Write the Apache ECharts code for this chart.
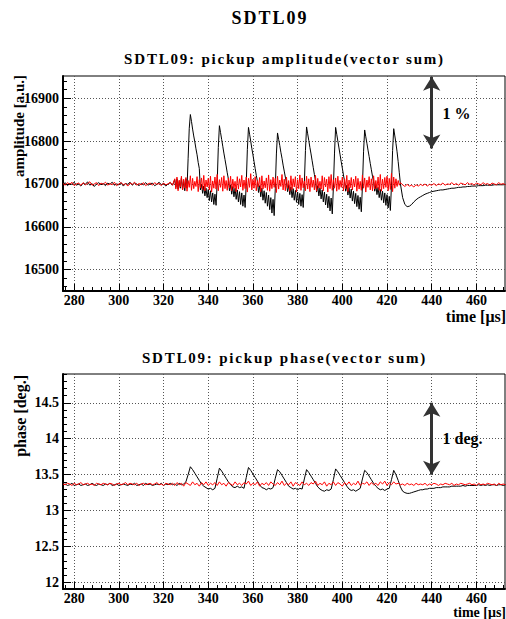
<!DOCTYPE html>
<html><head><meta charset="utf-8">
<script src="https://cdn.jsdelivr.net/npm/echarts@6/dist/echarts.min.js"></script>
<style>html,body{margin:0;padding:0;background:#fff}#c{width:506px;height:619px}</style>
</head><body><div id="c"></div>
<script>
// ---- data ----
// sampling of the traces: [start µs, step µs]
const quietTime = [275, 1];    // 275 .. 324
const pulseTime = [325, 0.5];  // 325 .. 426 (amplitude only)
const tailTime  = [427, 1];    // 427 .. 473
const phaseTime = [275, 1];    // 275 .. 473

const xTicks = [280, 300, 320, 340, 360, 380, 400, 420, 440, 460];
const ampTicks = [16500, 16600, 16700, 16800, 16900];
const phaseTicks = [12, 12.5, 13, 13.5, 14, 14.5];

const mainTitle = 'SDTL09';
const ampTitle = 'SDTL09: pickup amplitude(vector sum)';
const phaseTitle = 'SDTL09: pickup phase(vector sum)';
const ampAxisName = 'amplitude [a.u.]';
const phaseAxisName = 'phase [deg.]';
const timeAxisName = 'time [\u03bcs]';
const ampNote = '1 %';
const phaseNote = '1 deg.';
const arrowTime = 440;
const ampArrow = [16950, 16783];
const phaseArrow = [14.5, 13.5];
const ampNotePos = [444.6, 16865];
const phaseNotePos = [444.6, 14.0];

const ampBlackQuiet = [
16698,16703,16696,16701,16699,16704,16697,16700,16695,16702,
16699,16705,16697,16701,16694,16700,16703,16698,16701,16696,
16702,16699,16704,16697,16700,16698,16703,16695,16701,16699,
16704,16697,16702,16700,16696,16701,16698,16703,16697,16700,
16702,16696,16699,16704,16698,16701,16695,16700,16703,16697
];
const ampBlackPulse = [
16710,16692,16712,16688,16706,16690,16714,16686,16708,16684,16712,16690,16760,16830,
16862,16846,16828,16812,16798,16782,16768,16750,16736,16686,16699,16678,16695,16672,16690,16668,16687,16661,16684,16658,16679,16652,16676,16650,16702,16785,
16836,16820,16804,16788,16772,16757,16742,16726,16712,16684,16698,16676,16694,16670,16690,16664,16686,16658,16682,16652,16679,16648,16674,16645,16700,16780,
16832,16816,16800,16783,16768,16752,16736,16720,16706,16680,16696,16670,16690,16662,16684,16655,16680,16648,16674,16640,16668,16632,16664,16626,16690,16770,
16819,16804,16790,16774,16760,16744,16730,16716,16704,16682,16697,16675,16693,16668,16689,16662,16685,16657,16681,16652,16678,16648,16675,16645,16700,16778,
16833,16817,16801,16785,16770,16754,16738,16722,16708,16681,16696,16672,16691,16665,16686,16658,16681,16651,16676,16644,16671,16637,16667,16630,16692,16772,
16832,16816,16800,16784,16768,16752,16737,16721,16706,16683,16697,16674,16692,16667,16688,16660,16683,16654,16678,16647,16673,16641,16669,16635,16695,16775,
16826,16810,16795,16779,16764,16748,16733,16718,16705,16683,16697,16675,16692,16668,16687,16662,16683,16656,16679,16650,16675,16644,16671,16638,16697,16778,
16829,16812,16795,16775,16752,16726,16700
];
const ampBlackTail = [
16668,16652,16647,16648,16652,16658,16663,16667,16670,16673,
16676,16678,16680,16682,16683,16684,16685,16686,16686,16687,
16688,16689,16690,16690,16691,16692,16692,16693,16693,16694,
16694,16695,16695,16695,16696,16696,16696,16697,16697,16697,
16697,16698,16698,16698,16698,16698,16699
];
const ampRedQuiet = [
16701,16697,16703,16699,16704,16696,16700,16702,16697,16703,
16698,16701,16705,16697,16700,16703,16696,16702,16699,16704,
16697,16701,16698,16704,16696,16700,16703,16698,16701,16695,
16702,16699,16704,16697,16701,16698,16703,16696,16700,16702,
16697,16703,16699,16701,16696,16702,16698,16700,16704,16697
];
const ampRedPulse = [
16712,16688,16716,16684,16709,16693,16718,16686,16711,16690,
16715,16683,16708,16692,16719,16685,16713,16689,16706,16694,
16717,16682,16710,16691,16714,16687,16720,16684,16709,16693,
16713,16686,16718,16681,16707,16690,16716,16688,16722,16684,
16710,16692,16715,16683,16719,16689,16708,16685,16714,16691,
16718,16684,16711,16690,16706,16682,16717,16688,16712,16693,
16720,16685,16709,16689,16716,16681,16713,16692,16724,16686,
16711,16690,16717,16684,16708,16693,16715,16682,16719,16688,
16707,16691,16714,16685,16721,16683,16710,16689,16716,16692,
16713,16680,16718,16688,16709,16694,16722,16686,16711,16684,
16716,16690,16708,16683,16719,16687,16712,16693,16717,16681,
16710,16689,16721,16685,16714,16691,16707,16684,16718,16688,
16712,16682,16716,16692,16709,16686,16720,16683,16713,16690,
16706,16688,16719,16684,16715,16693,16711,16681,16717,16689,
16722,16685,16710,16690,16714,16683,16718,16687,16708,16692,
16716,16684,16712,16689,16720,16682,16709,16691,16715,16686,
16711,16693,16718,16683,16713,16688,16706,16685,16721,16690,
16714,16681,16709,16692,16717,16686,16712,16684,16719,16688,
16708,16690,16716,16685,16722,16683,16711,16689,16715,16692,
16718,16684,16713,16687,16725,16682,16716,16690,16712,16694,
16708,16697,16703
];
const ampRedTail = [
16698,16694,16699,16695,16697,16693,16698,16695,16699,16696,
16700,16695,16699,16697,16701,16696,16700,16698,16702,16697,
16700,16699,16703,16698,16701,16697,16702,16700,16698,16703,
16699,16701,16697,16702,16700,16698,16703,16699,16701,16697,
16702,16700,16698,16703,16699,16701,16698
];
const phaseBlack = [
13.36,13.37,13.35,13.36,13.38,13.35,13.36,13.37,13.35,13.36,
13.37,13.35,13.36,13.38,13.36,13.35,13.37,13.36,13.35,13.37,
13.36,13.38,13.35,13.36,13.37,13.35,13.36,13.37,13.36,13.35,
13.37,13.36,13.38,13.35,13.36,13.37,13.35,13.38,13.36,13.37,
13.35,13.36,13.37,13.36,13.38,13.35,13.37,13.36,13.38,13.36,
13.37,13.35,13.38,13.36,13.37,13.40,13.50,13.61,13.57,13.52,
13.47,13.42,13.37,13.34,13.32,13.30,13.31,13.29,13.31,13.45,
13.59,13.55,13.50,13.45,13.40,13.36,13.33,13.32,13.34,13.32,
13.33,13.31,13.46,13.60,13.56,13.51,13.46,13.41,13.36,13.32,
13.31,13.29,13.31,13.30,13.32,13.45,13.57,13.54,13.49,13.44,
13.39,13.34,13.32,13.30,13.31,13.29,13.31,13.30,13.44,13.57,
13.53,13.48,13.43,13.38,13.33,13.30,13.28,13.27,13.29,13.28,
13.30,13.43,13.58,13.54,13.49,13.44,13.39,13.34,13.30,13.28,
13.29,13.27,13.29,13.31,13.44,13.56,13.53,13.48,13.43,13.38,
13.34,13.31,13.29,13.30,13.28,13.30,13.31,13.43,13.56,13.50,
13.42,13.33,13.27,13.25,13.24,13.24,13.25,13.26,13.27,13.28,
13.29,13.29,13.30,13.30,13.31,13.31,13.31,13.32,13.32,13.32,
13.33,13.33,13.33,13.33,13.34,13.34,13.34,13.34,13.34,13.35,
13.34,13.35,13.35,13.35,13.35,13.35,13.36,13.35,13.36,13.35,
13.36,13.35,13.36,13.36,13.35,13.36,13.36,13.35,13.36
];
const phaseRed = [
13.37,13.36,13.38,13.37,13.35,13.38,13.36,13.37,13.39,13.36,
13.37,13.38,13.36,13.37,13.35,13.38,13.37,13.36,13.38,13.37,
13.36,13.38,13.37,13.35,13.37,13.38,13.36,13.37,13.39,13.36,
13.38,13.37,13.36,13.38,13.35,13.37,13.38,13.36,13.37,13.38,
13.36,13.37,13.39,13.36,13.37,13.35,13.38,13.37,13.36,13.38,
13.35,13.39,13.36,13.38,13.34,13.39,13.37,13.35,13.40,13.36,
13.38,13.34,13.39,13.36,13.40,13.35,13.38,13.36,13.39,13.35,
13.40,13.36,13.38,13.34,13.39,13.37,13.35,13.40,13.36,13.38,
13.35,13.39,13.37,13.41,13.35,13.38,13.36,13.40,13.34,13.38,
13.36,13.39,13.35,13.40,13.37,13.35,13.39,13.36,13.41,13.35,
13.38,13.36,13.40,13.34,13.39,13.37,13.35,13.40,13.36,13.38,
13.35,13.39,13.37,13.41,13.35,13.38,13.36,13.40,13.34,13.38,
13.36,13.40,13.35,13.39,13.37,13.34,13.39,13.36,13.40,13.35,
13.38,13.36,13.41,13.35,13.38,13.37,13.40,13.35,13.39,13.36,
13.38,13.35,13.40,13.37,13.41,13.35,13.39,13.36,13.40,13.37,
13.38,13.36,13.37,13.35,13.38,13.36,13.37,13.35,13.38,13.36,
13.37,13.36,13.38,13.35,13.37,13.36,13.38,13.37,13.35,13.37,
13.36,13.38,13.37,13.36,13.38,13.35,13.37,13.36,13.38,13.37,
13.36,13.37,13.38,13.36,13.37,13.35,13.38,13.36,13.37,13.36,
13.38,13.37,13.36,13.37,13.35,13.38,13.36,13.37,13.36
];

// ---- presentation ----
const FONT = '"Liberation Serif", "Times New Roman", serif';
const xMin = 275, xMax = 472.8;
const ampMin = 16450, ampMax = 16952;
const phMin = 11.91, phMax = 14.9;

function steps(a, b, s) { const r = []; for (let k = 0; a + k * s <= b + 1e-9; k++) r.push(+(a + k * s).toFixed(4)); return r; }
const xMinor = steps(276, 472, 4);
const ampMinor = steps(16460, 16940, 20);
const phaseMinor = steps(12, 14.9, 0.1);

function sampled(time, arr) { return arr.map((v, i) => [time[0] + i * time[1], v]); }
const ampBlackData = sampled(quietTime, ampBlackQuiet).concat(sampled(pulseTime, ampBlackPulse), sampled(tailTime, ampBlackTail));
const ampRedData = sampled(quietTime, ampRedQuiet).concat(sampled(pulseTime, ampRedPulse), sampled(tailTime, ampRedTail));

const labelStyle = { fontFamily: FONT, fontWeight: 'bold', fontSize: 14, lineHeight: 12, color: '#000' };
const split = { show: true, lineStyle: { color: '#555', width: 1, type: [1, 2] } };
const fmt = v => String(+v.toFixed(3));

function xMajor(g) {
  return { gridIndex: g, type: 'value', min: xMin, max: xMax, position: 'bottom',
    axisLine: { show: true, onZero: false, lineStyle: { color: '#000', width: 2 } },
    axisTick: { show: true, inside: true, length: 7, customValues: xTicks, lineStyle: { color: '#000', width: 1 } },
    axisLabel: Object.assign({ show: true, customValues: xTicks, margin: 3, formatter: fmt }, labelStyle),
    splitLine: split };
}
function xMinorAxis(g) {
  return { gridIndex: g, type: 'value', min: xMin, max: xMax, position: 'bottom', offset: 0,
    axisLine: { show: false, onZero: false },
    axisTick: { show: true, inside: true, length: 4, customValues: xMinor, lineStyle: { color: '#000', width: 1 } },
    axisLabel: { show: false }, splitLine: { show: false } };
}
function yMajor(g, mn, mx, ticks) {
  return { gridIndex: g, type: 'value', min: mn, max: mx, position: 'left',
    axisLine: { show: true, onZero: false, lineStyle: { color: '#000', width: 2 } },
    axisTick: { show: true, inside: true, length: 8, customValues: ticks, lineStyle: { color: '#000', width: 1 } },
    axisLabel: Object.assign({ show: true, customValues: ticks, margin: 4, formatter: fmt }, labelStyle),
    splitLine: split };
}
function yMinorAxis(g, mn, mx, ticks) {
  return { gridIndex: g, type: 'value', min: mn, max: mx, position: 'left', offset: 0,
    axisLine: { show: false, onZero: false },
    axisTick: { show: true, inside: true, length: 4, customValues: ticks, lineStyle: { color: '#000', width: 1 } },
    axisLabel: { show: false }, splitLine: { show: false } };
}

function arrowMark(x, a, b) {
  return { silent: true, symbol: ['arrow', 'arrow'], symbolSize: [13, 14],
    lineStyle: { color: '#333', width: 3, type: 'solid' }, label: { show: false },
    data: [[{ coord: [x, a] }, { coord: [x, b] }]] };
}
function noteMark(pos, text) {
  return { silent: true, symbol: 'circle', symbolSize: 1, itemStyle: { color: 'rgba(0,0,0,0)' },
    label: { show: true, position: 'right', distance: 0, formatter: text, fontFamily: FONT, fontWeight: 'bold', fontSize: 16, color: '#000' },
    data: [{ coord: pos }] };
}

const textEl = (x, y, text, size, align, rot) => ({
  type: 'text', x: x, y: y, rotation: rot || 0, silent: true,
  style: { text: text, fontFamily: FONT, fontWeight: 'bold', fontSize: size, lineHeight: size - 1, fill: '#000', align: align, verticalAlign: 'middle' }
});

const option = {
  animation: false,
  backgroundColor: '#fff',
  grid: [
    { left: 63, top: 76, width: 442, height: 215, show: true, borderColor: '#000', borderWidth: 1, outerBoundsMode: 'none' },
    { left: 63, top: 374, width: 442, height: 215, show: true, borderColor: '#000', borderWidth: 1, outerBoundsMode: 'none' }
  ],
  xAxis: [xMajor(0), xMinorAxis(0), xMajor(1), xMinorAxis(1)],
  yAxis: [
    yMajor(0, ampMin, ampMax, ampTicks), yMinorAxis(0, ampMin, ampMax, ampMinor),
    yMajor(1, phMin, phMax, phaseTicks), yMinorAxis(1, phMin, phMax, phaseMinor)
  ],
  series: [
    { type: 'line', xAxisIndex: 0, yAxisIndex: 0, data: ampBlackData, symbol: 'none', z: 2,
      lineStyle: { color: '#000', width: 1 }, itemStyle: { color: '#000' },
      markLine: arrowMark(arrowTime, ampArrow[0], ampArrow[1]), markPoint: noteMark(ampNotePos, ampNote) },
    { type: 'line', xAxisIndex: 0, yAxisIndex: 0, data: ampRedData, symbol: 'none', z: 3,
      lineStyle: { color: '#ff0000', width: 1 }, itemStyle: { color: '#ff0000' } },
    { type: 'line', xAxisIndex: 2, yAxisIndex: 2, data: sampled(phaseTime, phaseBlack), symbol: 'none', z: 2,
      lineStyle: { color: '#000', width: 1 }, itemStyle: { color: '#000' },
      markLine: arrowMark(arrowTime, phaseArrow[0], phaseArrow[1]), markPoint: noteMark(phaseNotePos, phaseNote) },
    { type: 'line', xAxisIndex: 2, yAxisIndex: 2, data: sampled(phaseTime, phaseRed), symbol: 'none', z: 3,
      lineStyle: { color: '#ff0000', width: 1 }, itemStyle: { color: '#ff0000' } }
  ],
  graphic: [
    textEl(270, 18, mainTitle, 18, 'center'),
    textEl(284.5, 59, ampTitle, 15, 'center'),
    textEl(284.5, 357.5, phaseTitle, 15, 'center'),
    textEl(19, 75, ampAxisName, 15, 'right', Math.PI / 2),
    textEl(20, 375, phaseAxisName, 16, 'right', Math.PI / 2),
    textEl(506, 316, timeAxisName, 16, 'right'),
    textEl(506, 612, timeAxisName, 14, 'right')
  ]
};

const chart = echarts.init(document.getElementById('c'), null, { renderer: 'svg' });
chart.setOption(option);
document.querySelectorAll('#c svg text').forEach(function (t) {
  const s = t.textContent;
  if (s === mainTitle) t.style.letterSpacing = '2px';
  if (s === ampTitle || s === phaseTitle) t.style.letterSpacing = '1.8px';
});
</script>
</body></html>
